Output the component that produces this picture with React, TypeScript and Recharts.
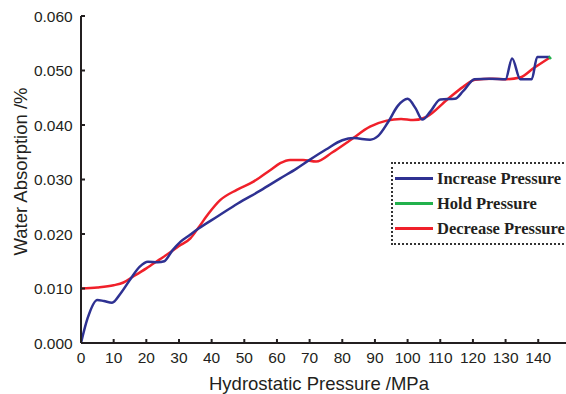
import React from 'react';
import { LineChart, Line, XAxis, YAxis, Legend, Label } from 'recharts';

const increaseX = [0, 2, 5, 7, 9.5, 12, 15, 18, 20.5, 23.5, 25.5, 28, 30.5, 33, 36, 42, 48, 55, 61, 66, 70, 75, 80, 83.5, 88.5, 91, 94, 97, 100, 102.5, 104.5, 107, 110, 114.5, 117, 120.5, 125, 130, 132, 134.5, 138, 139.7, 143.6];
const increaseY = [0.0, 0.0045, 0.0079, 0.0077, 0.0074, 0.009, 0.0116, 0.014, 0.0149, 0.0148, 0.015, 0.017, 0.0186, 0.0197, 0.021, 0.0233, 0.0256, 0.028, 0.0302, 0.032, 0.0336, 0.0355, 0.0372, 0.0376, 0.0373, 0.038, 0.0405, 0.0435, 0.0448, 0.043, 0.041, 0.0425, 0.0447, 0.0448, 0.0462, 0.0484, 0.0485, 0.0484, 0.0522, 0.0484, 0.0484, 0.0525, 0.0525];

const holdX = [143.2, 143.9];
const holdY = [0.0526, 0.0521];

const decreaseX = [0, 5, 10, 13, 16, 20, 24, 27, 30, 33.5, 36, 39, 42.6, 47.7, 52.8, 57.9, 61, 64, 68, 72, 77, 82.4, 88.5, 93.6, 98, 101.7, 105.8, 112, 117, 120.6, 126, 130.3, 134.4, 138.5, 143.6];
const decreaseY = [0.01, 0.0102, 0.0106, 0.0111, 0.0122, 0.0137, 0.0153, 0.0165, 0.0178, 0.0192, 0.0212, 0.0237, 0.0262, 0.0281, 0.0296, 0.0317, 0.033, 0.0336, 0.0336, 0.0333, 0.035, 0.0372, 0.0397, 0.0408, 0.0411, 0.0409, 0.0415, 0.0446, 0.047, 0.0483, 0.0485, 0.0484, 0.0487, 0.0504, 0.0524];

const xTicks = [0, 10, 20, 30, 40, 50, 60, 70, 80, 90, 100, 110, 120, 130, 140];
const yTicks = [0, 0.01, 0.02, 0.03, 0.04, 0.05, 0.06];

const seriesNames = ['Increase Pressure', 'Hold Pressure', 'Decrease Pressure'];
const seriesColors = ['#2e3192', '#22b14c', '#f0202a'];

const toRows = (xs: number[], ys: number[]) => xs.map((x, i) => ({ x, y: ys[i] }));
const increaseData = toRows(increaseX, increaseY);
const holdData = toRows(holdX, holdY);
const decreaseData = toRows(decreaseX, decreaseY);

const axisColor = '#231f20';
const tickFont = { fontFamily: '"Liberation Sans", Arial, sans-serif', fontSize: 15.5, fill: axisColor };

const renderLegend = () => (
  <div
    style={{
      border: '2px dotted #333',
      paddingTop: 2,
      paddingLeft: 2,
      boxSizing: 'border-box',
      width: 200,
      height: 83,
      background: '#fff',
    }}
  >
    {seriesNames.map((n, i) => (
      <div key={n} style={{ display: 'flex', alignItems: 'center', height: 25 }}>
        <div style={{ width: 38, height: 3, background: seriesColors[i], marginRight: 4 }} />
        <span
          style={{
            fontFamily: '"Liberation Serif", "Times New Roman", serif',
            fontWeight: 'bold',
            fontSize: 16.5,
            color: axisColor,
            whiteSpace: 'nowrap',
          }}
        >
          {n}
        </span>
      </div>
    ))}
  </div>
);

export default function App() {
  return (
    <div style={{ position: 'absolute', left: 0, top: 0, width: 566, height: 394, overflow: 'hidden', background: '#fff' }}>
      <LineChart width={566} height={394} margin={{ top: 16, right: 0, bottom: 0, left: 0 }}>
        <XAxis
          type="number"
          dataKey="x"
          domain={[0, 148.5]}
          ticks={xTicks}
          allowDataOverflow
          height={51}
          tickSize={-4}
          tickMargin={12.5}
          tick={tickFont}
          axisLine={{ stroke: axisColor, strokeWidth: 2 }}
          tickLine={{ stroke: axisColor, strokeWidth: 2 }}
        >
          <Label
            content={() => (
              <text
                x={319}
                y={390}
                textAnchor="middle"
                fontFamily='"Liberation Sans", Arial, sans-serif'
                fontSize={18.5}
                fill={axisColor}
              >
                Hydrostatic Pressure /MPa
              </text>
            )}
          />
        </XAxis>
        <YAxis
          type="number"
          dataKey="y"
          domain={[0, 0.06]}
          ticks={yTicks}
          width={81}
          tickSize={-4}
          tickMargin={12.3}
          tick={tickFont}
          tickFormatter={(v: number) => v.toFixed(3)}
          axisLine={{ stroke: axisColor, strokeWidth: 2 }}
          tickLine={{ stroke: axisColor, strokeWidth: 2 }}
        >
          <Label
            content={() => (
              <text
                x={20}
                y={171.5}
                transform="rotate(-90 20 171.5)"
                textAnchor="middle"
                dominantBaseline="central"
                fontFamily='"Liberation Sans", Arial, sans-serif'
                fontSize={18.5}
                fill={axisColor}
              >
                Water Absorption /%
              </text>
            )}
          />
        </YAxis>
        <Legend
          layout="vertical"
          align="center"
          verticalAlign="middle"
          content={renderLegend}
          wrapperStyle={{ left: 391, top: 162, width: 200, height: 83 }}
        />
        <Line data={decreaseData} dataKey="y" type="monotone" stroke={seriesColors[2]} strokeWidth={2.5} dot={false} isAnimationActive={false} name={seriesNames[2]} />
        <Line data={increaseData} dataKey="y" type="monotone" stroke={seriesColors[0]} strokeWidth={2.5} dot={false} isAnimationActive={false} name={seriesNames[0]} />
        <Line data={holdData} dataKey="y" type="monotone" stroke={seriesColors[1]} strokeWidth={2.5} dot={false} isAnimationActive={false} name={seriesNames[1]} />
      </LineChart>
    </div>
  );
}
